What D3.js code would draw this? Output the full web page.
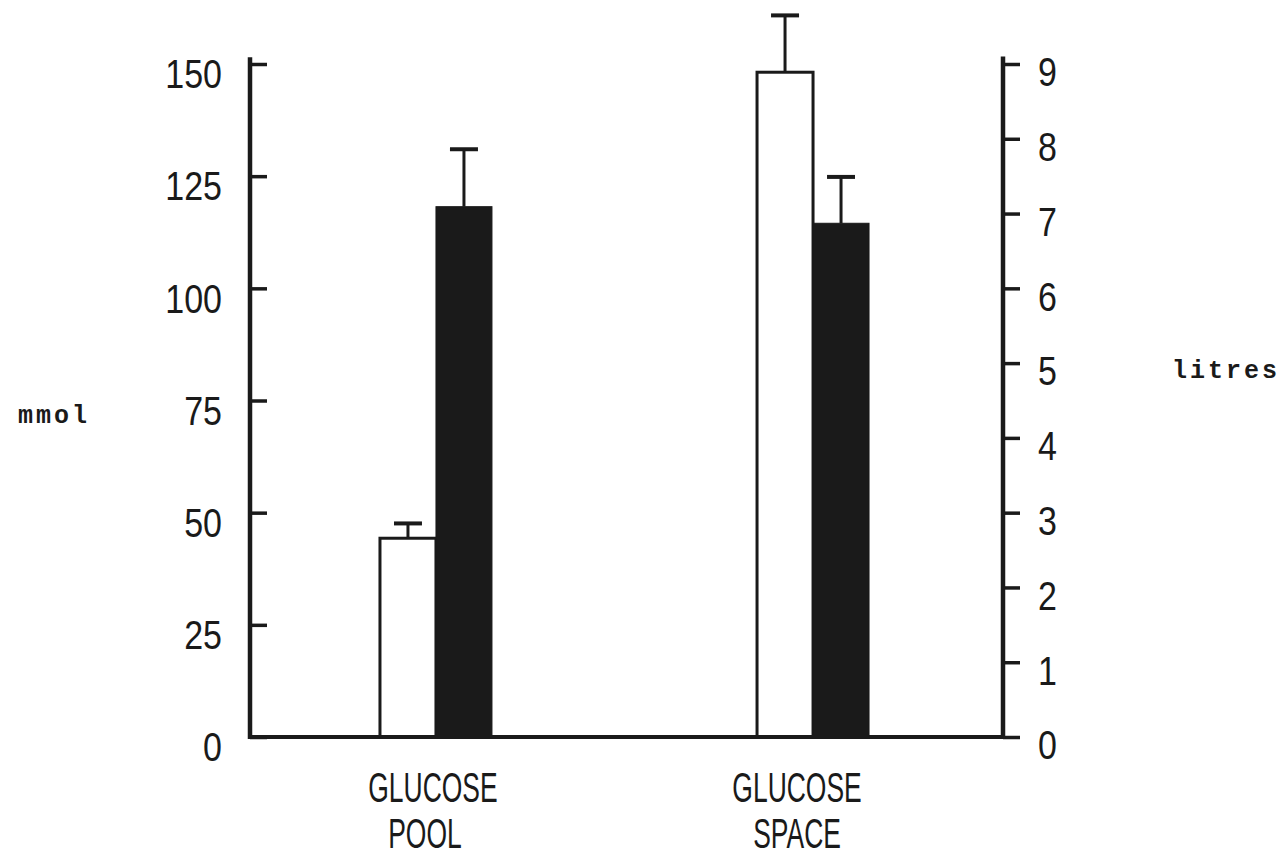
<!DOCTYPE html>
<html>
<head>
<meta charset="utf-8">
<script src="https://cdn.jsdelivr.net/npm/d3@7"></script>
<style>
  html, body { margin: 0; padding: 0; background: #fff; }
  svg { display: block; }
</style>
</head>
<body>
<svg id="chart" width="1285" height="857"></svg>
<script>
// ---- data ----
const categories = ["GLUCOSE POOL", "GLUCOSE SPACE"];
const categoryLines = [["GLUCOSE", "POOL"], ["GLUCOSE", "SPACE"]];
const categoryAxis = ["left", "right"];          // which y axis each group is read on
const series = ["open", "filled"];
const openValues = [44.3, 8.89];                  // mmol, litres
const filledValues = [118.2, 6.87];
const openErrors = [3.3, 0.76];
const filledErrors = [12.8, 0.62];
const leftTicks = [0, 25, 50, 75, 100, 125, 150];
const rightTicks = [0, 1, 2, 3, 4, 5, 6, 7, 8, 9];
const leftLabel = "mmol";
const rightLabel = "litres";

// ---- layout ----
const svg = d3.select("#chart");
const ink = "#1a1a1a";
const xLeft = 250, xRight = 1003, yBase = 737, yTop = 64;

const yL = d3.scaleLinear().domain([0, 150]).range([yBase, yTop]);
const yR = d3.scaleLinear().domain([0, 9]).range([yBase, yTop]);
const x = d3.scaleBand().domain(categories).range([xLeft, xRight])
  .paddingInner(0.703).paddingOuter(0.35);
const xs = d3.scaleBand().domain(series).range([-2, x.bandwidth() - 2]);

const rows = categories.map((c, i) => ({
  cat: c, axis: categoryAxis[i],
  vals: [
    { s: "open", v: openValues[i], e: openErrors[i] },
    { s: "filled", v: filledValues[i], e: filledErrors[i] }
  ]
}));

// ---- bars ----
const g = svg.append("g");
rows.forEach(r => {
  const y = r.axis === "left" ? yL : yR;
  const grp = g.append("g").attr("transform", `translate(${x(r.cat)},0)`);
  grp.selectAll("line.stem").data(r.vals).join("line")
    .attr("x1", d => xs(d.s) + xs.bandwidth() / 2)
    .attr("x2", d => xs(d.s) + xs.bandwidth() / 2)
    .attr("y1", d => y(d.v))
    .attr("y2", d => y(d.v + d.e))
    .attr("stroke", ink).attr("stroke-width", 3);
  grp.selectAll("line.cap").data(r.vals).join("line")
    .attr("x1", d => xs(d.s) + xs.bandwidth() / 2 - 14)
    .attr("x2", d => xs(d.s) + xs.bandwidth() / 2 + 14)
    .attr("y1", d => y(d.v + d.e))
    .attr("y2", d => y(d.v + d.e))
    .attr("stroke", ink).attr("stroke-width", 4);
  grp.selectAll("rect").data(r.vals).join("rect")
    .attr("x", d => xs(d.s))
    .attr("width", xs.bandwidth())
    .attr("y", d => y(d.v))
    .attr("height", d => yBase - y(d.v))
    .attr("fill", d => d.s === "open" ? "#fff" : ink)
    .attr("stroke", ink)
    .attr("stroke-width", d => d.s === "open" ? 3 : 1);
});

// ---- axes ----
const tickFont = "'Liberation Sans', Arial, sans-serif";

const axL = svg.append("g").attr("transform", `translate(${xLeft},0)`)
  .call(d3.axisLeft(yL).tickValues(leftTicks).tickSizeInner(-17).tickSizeOuter(0).tickPadding(0));
axL.select(".domain").remove();
axL.selectAll(".tick line").attr("stroke", ink).attr("stroke-width", 3.5);
axL.selectAll(".tick text")
  .attr("x", 0).attr("y", 0).attr("dy", "0.32em")
  .attr("transform", "translate(-28,11) scale(0.85,1)")
  .attr("fill", ink).attr("font-family", tickFont).attr("font-size", 40)
  .attr("text-anchor", "end");
axL.append("line").attr("x1", 0).attr("x2", 0)
  .attr("y1", yL(0) + 2).attr("y2", yL(151.5))
  .attr("stroke", ink).attr("stroke-width", 4.5);

const axR = svg.append("g").attr("transform", `translate(${xRight},0)`)
  .call(d3.axisRight(yR).tickValues(rightTicks).tickSizeInner(17).tickSizeOuter(0).tickPadding(0));
axR.select(".domain").remove();
axR.selectAll(".tick line").attr("stroke", ink).attr("stroke-width", 3.5);
axR.selectAll(".tick text")
  .attr("x", 0).attr("y", 0).attr("dy", "0.32em")
  .attr("transform", "translate(35,9) scale(0.85,1)")
  .attr("fill", ink).attr("font-family", tickFont).attr("font-size", 40)
  .attr("text-anchor", "start");
axR.append("line").attr("x1", 0).attr("x2", 0)
  .attr("y1", yR(0) + 2).attr("y2", yR(9.1))
  .attr("stroke", ink).attr("stroke-width", 4.5);

// baseline
svg.append("g").attr("transform", `translate(0,${yBase})`)
  .call(d3.axisBottom(x).tickSize(0).tickFormat(""))
  .call(a => a.select(".domain").attr("stroke", ink).attr("stroke-width", 4)
    .attr("d", `M${xLeft - 2},0H${xRight + 2}`));

// category labels
const lineOffsets = [[-5, -13], [-18, -18]];
const lineBaselines = [802, 848];
categoryLines.forEach((lines, i) => {
  const cx = x(categories[i]) + x.bandwidth() / 2;
  lines.forEach((t, j) => {
    svg.append("text")
      .attr("transform", `translate(${cx + lineOffsets[i][j]},${lineBaselines[j]}) scale(0.63,1)`)
      .attr("text-anchor", "middle")
      .attr("font-family", tickFont).attr("font-size", 42)
      .attr("fill", ink).text(t);
  });
});

// axis titles
const monoFont = "'Liberation Mono', 'DejaVu Sans Mono', monospace";
svg.append("text").attr("x", 18).attr("y", 423)
  .attr("font-family", monoFont).attr("font-size", 25).attr("font-weight", "bold")
  .attr("letter-spacing", 3)
  .attr("fill", ink).text(leftLabel);
svg.append("text").attr("x", 1172).attr("y", 378)
  .attr("font-family", monoFont).attr("font-size", 25).attr("font-weight", "bold")
  .attr("letter-spacing", 3)
  .attr("fill", ink).text(rightLabel);
</script>
</body>
</html>
